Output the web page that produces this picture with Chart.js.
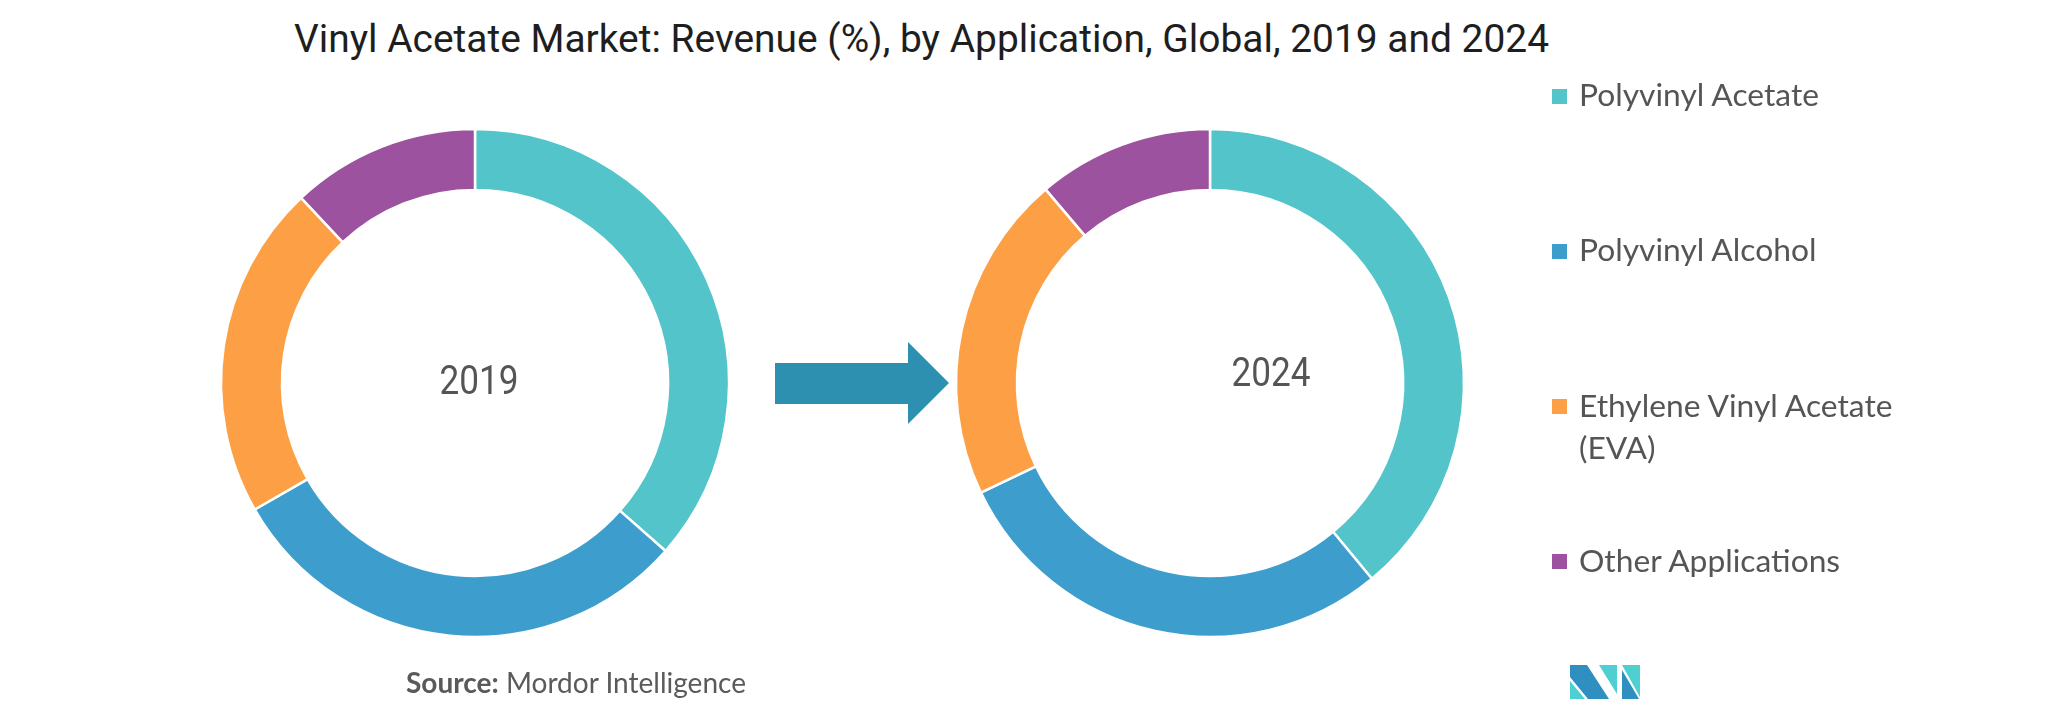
<!DOCTYPE html>
<html>
<head>
<meta charset="utf-8">
<script src="https://cdn.jsdelivr.net/npm/chart.js@4.4.1/dist/chart.umd.min.js"></script>
<style>
html,body{margin:0;padding:0;background:#fff;}
#stage{position:relative;width:2054px;height:720px;overflow:hidden;background:#fff;}
#title{position:absolute;left:294px;top:20px;font-family:Roboto,'Liberation Sans',sans-serif;font-size:38px;line-height:38px;color:#1e1e1e;white-space:nowrap;transform-origin:0 0;}
.donut{position:absolute;}
.center{position:absolute;font-family:Roboto,'Liberation Sans',sans-serif;font-size:40px;line-height:40px;color:#555;white-space:nowrap;transform:translate(-50%,-50%);}
.item{position:absolute;left:1552px;width:480px;}
.sq{position:absolute;left:0;width:15px;height:15px;}
.lbl{position:absolute;left:27px;width:345px;font-family:Lato,'Open Sans',sans-serif;font-size:31px;line-height:42px;color:#555;transform-origin:0 0;}
#source{position:absolute;left:406px;top:668px;font-family:Lato,'Open Sans',sans-serif;font-size:28px;line-height:28px;color:#5a5a5a;white-space:nowrap;transform-origin:0 0;}
#source b{font-weight:700;}
#deco{position:absolute;left:0;top:0;}
</style>
</head>
<body>
<div id="stage">
  <div id="title"></div>
  <canvas id="c2019" class="donut" width="540" height="540" style="left:205px;top:113px;"></canvas>
  <canvas id="c2024" class="donut" width="540" height="540" style="left:940px;top:113px;"></canvas>
  <div id="lab2019" class="center" style="left:479px;top:381px;"></div>
  <div id="lab2024" class="center" style="left:1271px;top:373px;"></div>
  <svg id="deco" width="2054" height="720">
    <polygon points="775,363 908,363 908,342 949,383 908,424 908,404 775,404" fill="#2E90B0"/>
    <g>
      <polygon points="1570,681 1570,699 1585,699" fill="#4ECFD2"/>
      <polygon points="1570,665 1587,665 1609,699 1588,699 1570,677" fill="#2E8FC0"/>
      <polygon points="1599,665 1617,665 1617,694" fill="#4ECFD2"/>
      <polygon points="1622,665 1640,665 1640,697" fill="#4ECFD2"/>
      <polygon points="1622,670 1622,699 1639,699" fill="#2E8FC0"/>
    </g>
  </svg>
  <div id="legend"></div>
  <div id="source"><b>Source:</b> Mordor Intelligence</div>
</div>
<script>
// ---- data ----
const titleText = 'Vinyl Acetate Market: Revenue (%), by Application, Global, 2019 and 2024';
const categories = ['Polyvinyl Acetate', 'Polyvinyl Alcohol', 'Ethylene Vinyl Acetate (EVA)', 'Other Applications'];
const years = ['2019', '2024'];
const values2019 = [36.5, 30.2, 21.3, 12.0];
const values2024 = [39.0, 28.9, 20.9, 11.2];
// ---- style ----
const colors = ['#52C4CA', '#3D9ECE', '#FDA045', '#9C529E'];

document.getElementById('title').textContent = titleText;
document.getElementById('lab2019').textContent = years[0];
document.getElementById('lab2024').textContent = years[1];

function makeDonut(id, values) {
  return new Chart(document.getElementById(id), {
    type: 'doughnut',
    data: {
      labels: categories,
      datasets: [{
        data: values,
        backgroundColor: colors,
        borderColor: '#ffffff',
        borderWidth: 2.5,
        hoverOffset: 0
      }]
    },
    options: {
      responsive: false,
      animation: false,
      radius: 254,
      cutout: '76%',
      layout: { padding: 0 },
      events: [],
      plugins: { legend: { display: false }, tooltip: { enabled: false } }
    }
  });
}
makeDonut('c2019', values2019);
makeDonut('c2024', values2024);

// legend built from categories / colors
const legend = document.getElementById('legend');
const firstCenter = 95, step = 155.3;
const lbls = [];
categories.forEach((c, i) => {
  const cy = firstCenter + i * step;
  const item = document.createElement('div');
  item.className = 'item';
  item.style.top = (cy - 22) + 'px';
  const sq = document.createElement('div');
  sq.className = 'sq';
  sq.style.background = colors[i];
  sq.style.top = (22 - 7.5 + 1) + 'px';
  const lbl = document.createElement('div');
  lbl.className = 'lbl';
  lbl.textContent = c;
  item.appendChild(sq);
  item.appendChild(lbl);
  legend.appendChild(item);
  lbls.push(lbl);
});

function textWidth(el) {
  const r = document.createRange();
  r.selectNodeContents(el);
  return r.getBoundingClientRect().width;
}
function fit() {
  const t = document.getElementById('title');
  t.style.transform = 'none';
  t.style.transform = 'scaleX(' + (1255 / textWidth(t)) + ')';
  const s = document.getElementById('source');
  s.style.transform = 'none';
  s.style.transform = 'scaleX(' + (340 / textWidth(s)) + ')';
  // legend: scale based on first label width (target 240px)
  lbls.forEach(l => { l.style.transform = 'none'; l.style.width = '345px'; });
  const k = 240 / textWidth(lbls[0]);
  lbls.forEach(l => { l.style.width = (345 / k) + 'px'; l.style.transform = 'scaleX(' + k + ')'; });
  ['lab2019', 'lab2024'].forEach(id => {
    const el = document.getElementById(id);
    el.style.transform = 'none';
    const kk = 79 / textWidth(el);
    el.style.transform = 'translate(-50%,-50%) scaleX(' + kk + ')';
  });
}
fit();
if (document.fonts && document.fonts.ready) document.fonts.ready.then(fit);
</script>
</body>
</html>
